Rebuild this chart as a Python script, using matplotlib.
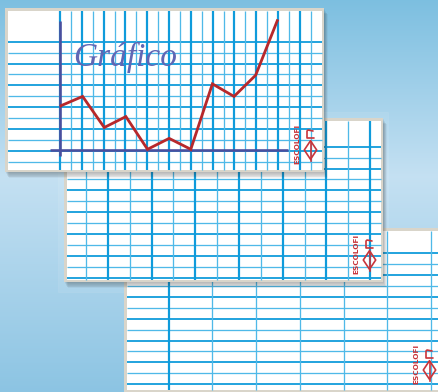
import numpy as np
import matplotlib
matplotlib.use('Agg')
import matplotlib.pyplot as plt
from matplotlib.patches import Rectangle, Polygon
import matplotlib.transforms as mtransforms

# ---- data ----
points_x = list(range(11))
values = [4, 4.85, 2, 3, 0, 1, 0, 6, 4.85, 6.8, 11.8]
title_text = "Gráfico"
brand = "ESCOLOFI"

W, H = 438, 392
fig = plt.figure(figsize=(W / 100, H / 100), dpi=100)
ax = fig.add_axes([0, 0, 1, 1])
ax.set_xlim(0, W)
ax.set_ylim(H, 0)
ax.axis('off')

# ---- background gradient ----
t = np.linspace(0, 1, 300)
stops_t = [0.0, 0.45, 1.0]
cols = np.array([(0.49, 0.75, 0.88), (0.77, 0.88, 0.95), (0.55, 0.77, 0.89)])
grad = np.stack([np.interp(t, stops_t, cols[:, c]) for c in range(3)], axis=1)
img = np.repeat(grad[:, None, :], 2, axis=1)
ax.imshow(img, extent=[0, W, H, 0], aspect='auto', zorder=0, interpolation='bilinear')

# faint light frame behind middle card
ax.add_patch(Rectangle((58, 112), 330, 180, facecolor='white', alpha=0.08,
                       edgecolor='white', lw=0.6, zorder=0.5))

CW, CH = 319, 164
GRID_D = '#0f9bdb'
GRID_L = '#4fb9e8'
PX = 0.72
RED = '#c8343a'


def logo(x0, y0, z):
    ax.text(x0 + 292.5, y0 + 136, brand, rotation=90, ha='center', va='center',
            fontsize=5.3, fontweight='bold', color=RED, zorder=z,
            family='DejaVu Sans')
    cx = x0 + 305.5
    cy = y0 + 142
    ax.add_patch(Polygon([(cx, cy - 9.3), (cx + 6.2, cy), (cx, cy + 9.3), (cx - 6.2, cy)],
                         closed=True, fill=False, edgecolor=RED, lw=1.2, zorder=z,
                         joinstyle='round'))
    ax.plot([cx, cx], [cy - 8, cy + 11], color=RED, lw=1.2, zorder=z)
    ax.plot([cx + 2.5, cx - 2.5, cx - 3.5, cx - 3.5, cx + 3.5],
            [y0 + 123, y0 + 122, y0 + 123, y0 + 130, y0 + 130],
            color=RED, lw=1.2, zorder=z, solid_capstyle='round')


def card(x0, y0, z, vx, vthick, hy, hthick):
    for i in range(1, 8):
        ax.add_patch(Rectangle((x0 + i * 0.5, y0 + i * 0.9), CW, CH, facecolor='#2a2a2a',
                               alpha=0.05, lw=0, zorder=z))
    ax.add_patch(Rectangle((x0, y0), CW, CH, facecolor='#d9d5ca', lw=0, zorder=z + 0.1))
    ax.add_patch(Rectangle((x0 + 2.5, y0 + 2.5), CW - 5, CH - 5, facecolor='white',
                           lw=0, zorder=z + 0.2))
    for y, th in zip(hy, hthick):
        ax.plot([x0 + 2.5, x0 + CW - 2.5], [y0 + y, y0 + y],
                color=GRID_D if th else GRID_L, lw=(1.8 if th else 1.3) * PX,
                zorder=z + 0.3, solid_capstyle='butt')
    for x, th in zip(vx, vthick):
        ax.plot([x0 + x, x0 + x], [y0 + 2.5, y0 + CH - 2.5],
                color=GRID_D if th else GRID_L, lw=(2.2 if th else 1.3) * PX,
                zorder=z + 0.3, solid_capstyle='butt')
    logo(x0, y0, z + 0.5)


# card 3 (back)
v3 = [44.7 + 43.7 * k for k in range(7)]
h3 = [25.3 + 10.9 * k for k in range(13)]
card(124, 228, 1, v3, [k == 0 for k in range(7)], h3, [k % 2 == 0 for k in range(13)])

# card 2
v2 = [22 + 21.85 * k for k in range(14)]
h2 = [28.7 + 10.9 * k for k in range(13)]
card(64, 118, 10, v2, [k % 2 == 1 for k in range(14)], h2, [k % 2 == 0 for k in range(13)])

# card 1 (front)
v1 = [55 + 10.9 * k for k in range(24)]
h1 = [33.7 + 10.9 * k for k in range(12)]
card(5, 8, 20, v1, [k % 2 == 0 for k in range(24)], h1, [k % 2 == 0 for k in range(12)])

# axes of the drawn chart
AXC = '#4a4f9e'
ax.plot([60, 60], [21, 156], color=AXC, lw=2.6 * PX, zorder=21, solid_capstyle='butt')
ax.plot([50, 288], [150, 150], color=AXC, lw=2.6 * PX, zorder=21, solid_capstyle='butt')

# the red line, in grid units mapped onto the card
trans = mtransforms.Affine2D().scale(21.63, -10.9).translate(61, 149.3) + ax.transData
ax.plot(points_x, values, transform=trans, color='#b7282b', lw=2.8 * PX, zorder=22,
        solid_joinstyle='miter')

ax.text(73, 66, title_text, fontsize=24, style='italic', family='Liberation Serif',
        color='#6066b4', ha='left', va='baseline', zorder=22)

fig.savefig('out.png', dpi=100)
